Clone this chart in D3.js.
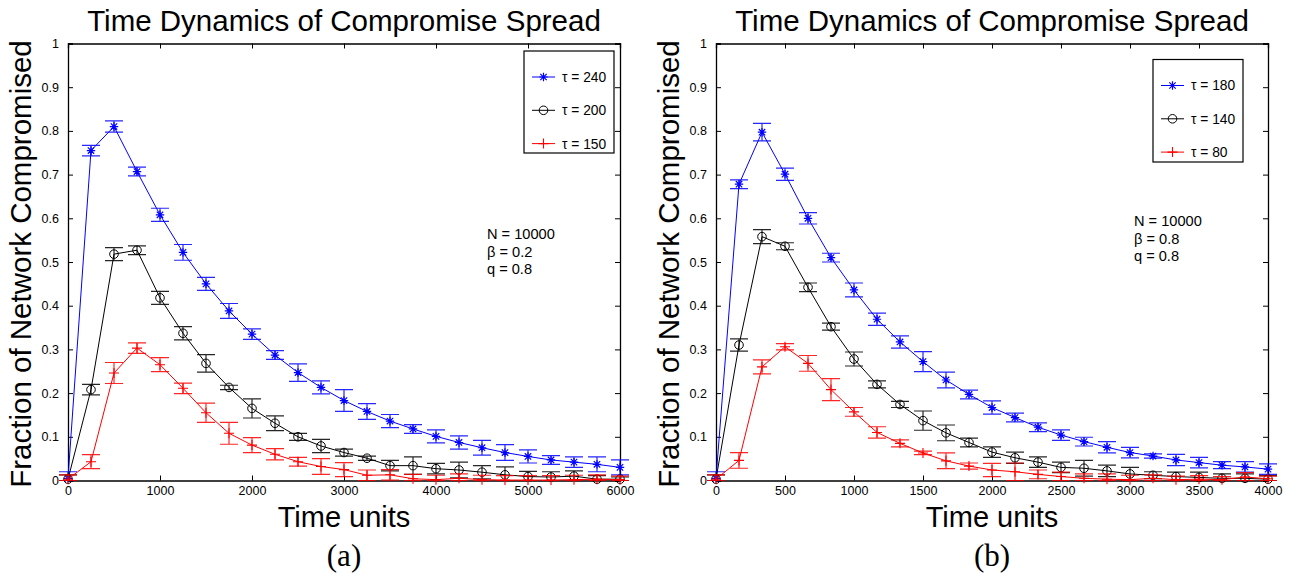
<!DOCTYPE html>
<html>
<head>
<meta charset="utf-8">
<script src="https://cdn.jsdelivr.net/npm/d3@7"></script>
<style>
  html, body { margin: 0; padding: 0; background: #fff; }
  svg { display: block; }
  text { font-family: "Liberation Sans", Arial, Helvetica, sans-serif; }
</style>
</head>
<body>
<svg id="chart" width="1298" height="578"></svg>
<script>
// ---------- Data ----------
const titleText = "Time Dynamics of Compromise Spread";
const yLabelText = "Fraction of Network Compromised";
const xLabelText = "Time units";

const yTickValues = [0, 0.1, 0.2, 0.3, 0.4, 0.5, 0.6, 0.7, 0.8, 0.9, 1];
const yTickLabels = ["0", "0.1", "0.2", "0.3", "0.4", "0.5", "0.6", "0.7", "0.8", "0.9", "1"];

// Panel (a)
const timesA = [0, 250, 500, 750, 1000, 1250, 1500, 1750, 2000, 2250, 2500, 2750, 3000,
                3250, 3500, 3750, 4000, 4250, 4500, 4750, 5000, 5250, 5500, 5750, 6000];
const xTicksA = [0, 1000, 2000, 3000, 4000, 5000, 6000];
const legendA = ["τ = 240", "τ = 200", "τ = 150"];
const paramsA = ["N = 10000", "β = 0.2", "q = 0.8"];
const tau240 = [0.005, 0.755, 0.810, 0.707, 0.608, 0.522, 0.450, 0.388, 0.335, 0.287, 0.247, 0.213, 0.183,
                0.158, 0.136, 0.118, 0.101, 0.087, 0.075, 0.064, 0.055, 0.047, 0.042, 0.037, 0.030];
const tau240Err = [0.015, 0.012, 0.013, 0.010, 0.015, 0.018, 0.015, 0.017, 0.012, 0.010, 0.020, 0.015, 0.025,
                   0.018, 0.015, 0.010, 0.015, 0.015, 0.017, 0.018, 0.015, 0.010, 0.012, 0.017, 0.017];
const tau200 = [0.003, 0.208, 0.518, 0.527, 0.418, 0.337, 0.268, 0.213, 0.165, 0.131, 0.100, 0.079, 0.064,
                0.051, 0.034, 0.034, 0.027, 0.024, 0.019, 0.013, 0.009, 0.008, 0.010, 0.003, 0.003];
const tau200Err = [0.010, 0.012, 0.015, 0.010, 0.015, 0.015, 0.020, 0.005, 0.022, 0.017, 0.008, 0.015, 0.008,
                   0.005, 0.012, 0.020, 0.012, 0.018, 0.015, 0.018, 0.012, 0.012, 0.012, 0.008, 0.005];
const tau150 = [0.003, 0.043, 0.246, 0.303, 0.265, 0.211, 0.155, 0.108, 0.081, 0.060, 0.043, 0.032, 0.025,
                0.012, 0.013, 0.004, 0.002, 0.005, 0.002, 0.001, 0.001, 0.001, 0.002, 0.003, 0.002];
const tau150Err = [0.010, 0.016, 0.024, 0.012, 0.016, 0.012, 0.022, 0.025, 0.017, 0.013, 0.010, 0.018, 0.016,
                   0.012, 0.012, 0.010, 0.010, 0.010, 0.010, 0.010, 0.010, 0.010, 0.010, 0.010, 0.008];

// Panel (b)
const timesB = [0, 166.7, 333.3, 500, 666.7, 833.3, 1000, 1166.7, 1333.3, 1500, 1666.7, 1833.3, 2000,
                2166.7, 2333.3, 2500, 2666.7, 2833.3, 3000, 3166.7, 3333.3, 3500, 3666.7, 3833.3, 4000];
const xTicksB = [0, 500, 1000, 1500, 2000, 2500, 3000, 3500, 4000];
const legendB = ["τ = 180", "τ = 140", "τ = 80"];
const paramsB = ["N = 10000", "β = 0.8", "q = 0.8"];
const tau180 = [0.005, 0.678, 0.797, 0.701, 0.600, 0.510, 0.436, 0.369, 0.317, 0.272, 0.230, 0.197, 0.167,
                0.144, 0.122, 0.104, 0.089, 0.076, 0.064, 0.056, 0.047, 0.041, 0.035, 0.031, 0.026];
const tau180Err = [0.015, 0.010, 0.020, 0.014, 0.013, 0.010, 0.016, 0.014, 0.014, 0.023, 0.018, 0.010, 0.015,
                   0.010, 0.010, 0.012, 0.010, 0.013, 0.012, 0.005, 0.013, 0.012, 0.008, 0.012, 0.012];
const tau140 = [0.003, 0.310, 0.558, 0.536, 0.442, 0.352, 0.278, 0.220, 0.174, 0.137, 0.109, 0.087, 0.065,
                0.052, 0.042, 0.030, 0.028, 0.022, 0.015, 0.012, 0.009, 0.007, 0.005, 0.005, 0.003];
const tau140Err = [0.010, 0.014, 0.016, 0.008, 0.010, 0.008, 0.016, 0.008, 0.007, 0.022, 0.018, 0.010, 0.012,
                   0.013, 0.012, 0.012, 0.018, 0.013, 0.015, 0.008, 0.010, 0.012, 0.010, 0.010, 0.008];
const tau80 = [0.003, 0.046, 0.260, 0.306, 0.268, 0.208, 0.157, 0.110, 0.085, 0.063, 0.045, 0.033, 0.024,
               0.020, 0.014, 0.009, 0.005, 0.003, 0.002, 0.005, 0.002, 0.003, 0.002, 0.008, 0.004];
const tau80Err = [0.010, 0.018, 0.016, 0.007, 0.018, 0.025, 0.010, 0.013, 0.008, 0.004, 0.018, 0.007, 0.015,
                  0.020, 0.010, 0.010, 0.010, 0.012, 0.010, 0.008, 0.008, 0.008, 0.007, 0.010, 0.006];

const seriesColors = ["#0000ff", "#000000", "#ff0000"];
const seriesMarkers = ["star", "circle", "plus"];

// ---------- Drawing ----------
const svg = d3.select("#chart");

function drawMarker(g, type, x, y, color) {
  if (type === "star") {
    const s = 4.2, d = 3.2;
    g.append("path")
      .attr("d", `M${x - s},${y}L${x + s},${y}M${x},${y - s}L${x},${y + s}` +
                 `M${x - d},${y - d}L${x + d},${y + d}M${x - d},${y + d}L${x + d},${y - d}`)
      .attr("stroke", color).attr("stroke-width", 1.2).attr("fill", "none");
  } else if (type === "circle") {
    g.append("circle").attr("cx", x).attr("cy", y).attr("r", 4.3)
      .attr("stroke", color).attr("stroke-width", 1).attr("fill", "none");
  } else {
    const s = 5;
    g.append("path")
      .attr("d", `M${x - s},${y}L${x + s},${y}M${x},${y - s}L${x},${y + s}`)
      .attr("stroke", color).attr("stroke-width", 1.1).attr("fill", "none");
  }
}

function drawPanel(cfg) {
  const x = d3.scaleLinear().domain(cfg.xDomain).range([cfg.left, cfg.right]);
  const y = d3.scaleLinear().domain([0, 1]).range([cfg.bottom, cfg.top]);
  const g = svg.append("g");
  const tickLen = 5;

  // Axes (ticks inside, on all four sides)
  const axB = d3.axisBottom(x).tickValues(cfg.xTicks).tickSize(-tickLen).tickPadding(6).tickFormat(d3.format("d"));
  const axT = d3.axisTop(x).tickValues(cfg.xTicks).tickSize(-tickLen).tickFormat("");
  const axL = d3.axisLeft(y).tickValues(yTickValues).tickSize(-tickLen).tickPadding(9)
    .tickFormat((d, i) => yTickLabels[i]);
  const axR = d3.axisRight(y).tickValues(yTickValues).tickSize(-tickLen).tickFormat("");

  [[axB, `translate(0,${cfg.bottom})`], [axT, `translate(0,${cfg.top})`],
   [axL, `translate(${cfg.left},0)`], [axR, `translate(${cfg.right},0)`]].forEach(([ax, tr]) => {
    const a = g.append("g").attr("transform", tr).call(ax);
    a.select(".domain").attr("stroke", "#000").attr("stroke-width", 1.3);
    a.selectAll(".tick line").attr("stroke", "#000").attr("stroke-width", 1);
    a.selectAll(".tick text").attr("fill", "#000").style("font-size", "12.5px")
      .style("font-family", '"Liberation Sans", Arial, sans-serif');
  });

  // Series
  cfg.series.forEach((s, si) => {
    const color = seriesColors[si];
    const sg = g.append("g");
    const pts = cfg.times.map((t, i) => ({ t, v: s.values[i], e: s.errs[i] }));
    const cap = 9;
    pts.forEach(p => {
      const xp = x(p.t), y1 = y(p.v + p.e), y0 = y(Math.max(p.v - p.e, 0));
      sg.append("path")
        .attr("d", `M${xp},${y1}L${xp},${y0}M${xp - cap},${y1}L${xp + cap},${y1}M${xp - cap},${y0}L${xp + cap},${y0}`)
        .attr("stroke", color).attr("stroke-width", 1.2).attr("fill", "none").attr("stroke-opacity", 0.85);
    });
    sg.append("path").datum(pts)
      .attr("d", d3.line().x(p => x(p.t)).y(p => y(p.v)))
      .attr("stroke", color).attr("stroke-width", 1).attr("fill", "none");
    pts.forEach(p => drawMarker(sg, seriesMarkers[si], x(p.t), y(p.v), color));
  });

  // Legend
  const lg = g.append("g");
  lg.append("rect").attr("x", cfg.legend.x).attr("y", cfg.legend.y)
    .attr("width", cfg.legend.w).attr("height", cfg.legend.h)
    .attr("fill", "#fff").attr("stroke", "#000").attr("stroke-width", 1.2);
  cfg.legendLabels.forEach((lab, i) => {
    const ly = cfg.legend.y + 26 + i * 33.3;
    const lx0 = cfg.legend.x + 8, lx1 = cfg.legend.x + 31;
    lg.append("line").attr("x1", lx0).attr("x2", lx1).attr("y1", ly).attr("y2", ly)
      .attr("stroke", seriesColors[i]).attr("stroke-width", 1);
    drawMarker(lg, seriesMarkers[i], (lx0 + lx1) / 2, ly, seriesColors[i]);
    lg.append("text").attr("x", cfg.legend.x + 38).attr("y", ly).attr("dy", "0.36em")
      .style("font-size", "13.8px").text(lab);
  });

  // Parameter annotation
  cfg.params.forEach((p, i) => {
    g.append("text").attr("x", cfg.paramX).attr("y", cfg.paramY + i * 17.5)
      .style("font-size", "14.6px").text(p);
  });

  // Titles
  const cx = (cfg.left + cfg.right) / 2;
  g.append("text").attr("x", cx).attr("y", 31).attr("text-anchor", "middle")
    .style("font-size", "29.5px").text(titleText);
  g.append("text").attr("x", cx).attr("y", 527).attr("text-anchor", "middle")
    .style("font-size", "29px").text(xLabelText);
  g.append("text").attr("transform", `translate(${cfg.left - 37},${(cfg.top + cfg.bottom) / 2 + 2}) rotate(-90)`)
    .attr("text-anchor", "middle").style("font-size", "29.5px").text(yLabelText);
  g.append("text").attr("x", cx).attr("y", 566).attr("text-anchor", "middle")
    .style("font-family", '"Liberation Serif", "DejaVu Serif", serif').style("font-size", "31px")
    .text(cfg.caption);
}

drawPanel({
  left: 68, right: 620, top: 43.5, bottom: 480.5,
  xDomain: [0, 6000], xTicks: xTicksA, times: timesA,
  series: [{ values: tau240, errs: tau240Err }, { values: tau200, errs: tau200Err }, { values: tau150, errs: tau150Err }],
  legendLabels: legendA, legend: { x: 524, y: 51, w: 90, h: 102 },
  params: paramsA, paramX: 487, paramY: 239, caption: "(a)"
});

drawPanel({
  left: 716, right: 1268, top: 43.5, bottom: 480.5,
  xDomain: [0, 4000], xTicks: xTicksB, times: timesB,
  series: [{ values: tau180, errs: tau180Err }, { values: tau140, errs: tau140Err }, { values: tau80, errs: tau80Err }],
  legendLabels: legendB, legend: { x: 1153, y: 59.5, w: 90, h: 102.5 },
  params: paramsB, paramX: 1134, paramY: 226, caption: "(b)"
});
</script>
</body>
</html>
